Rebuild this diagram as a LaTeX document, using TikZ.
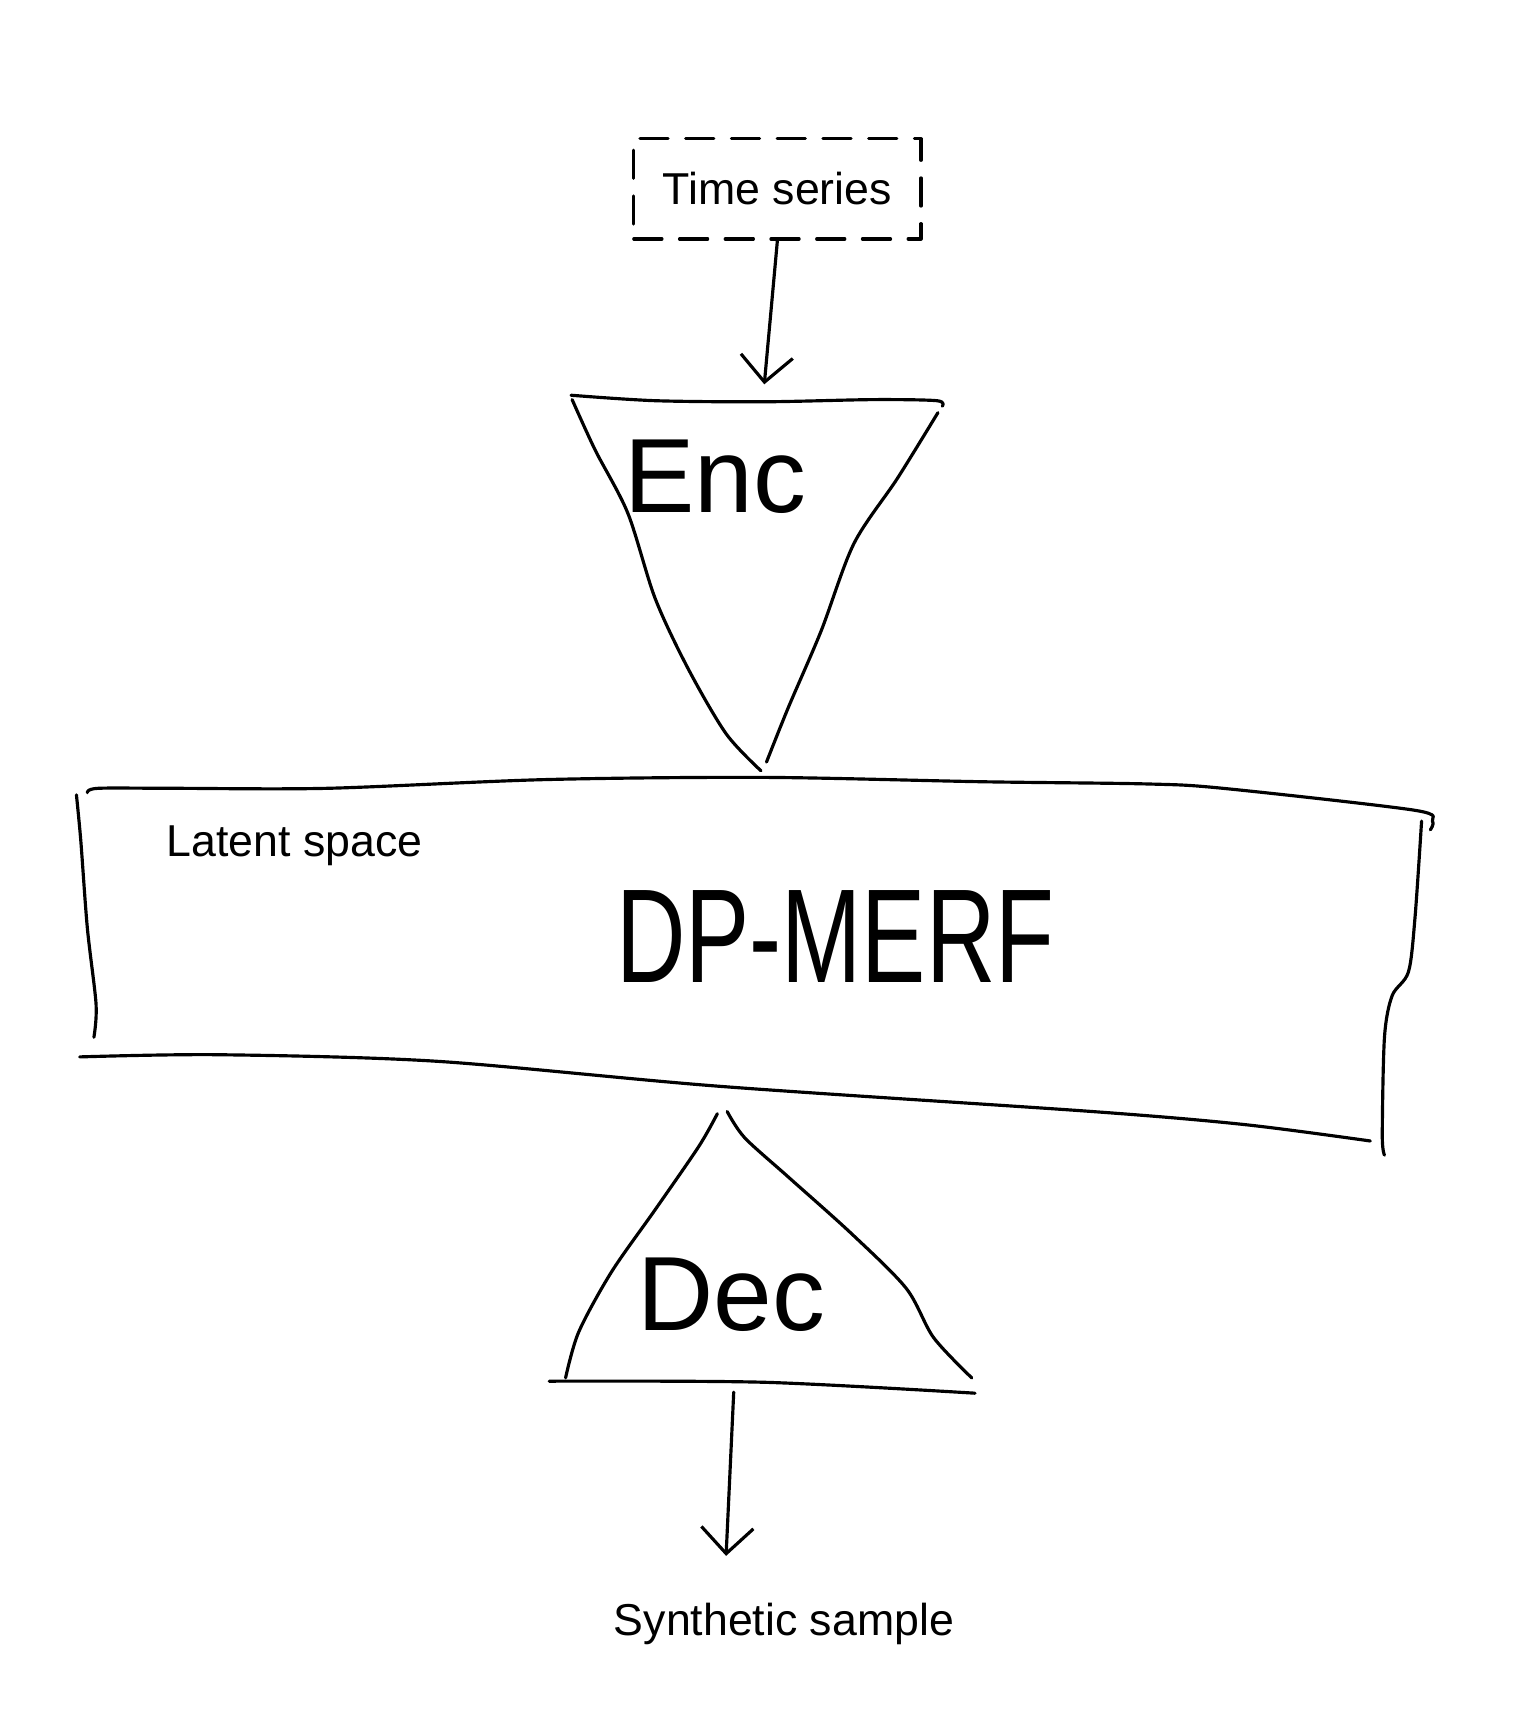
\documentclass[tikz,border=0pt]{standalone}
\usepackage{fontspec}
\setmainfont{Liberation Sans}
\usepackage{tikz}
\usetikzlibrary{arrows.meta}
\usetikzlibrary{positioning}

\begin{document}
\begin{tikzpicture}
[x=0.010917cm, y=-0.010917cm,
 sketch/.style={line width=0.9pt, line cap=round, line join=round},
 txt/.style={font=\fontsize{12.7}{15}\selectfont, inner sep=0pt},
 handtxt/.style={font=\fontsize{30}{34}\selectfont, inner sep=0pt},
 tsbox/.style={draw, sketch, dash pattern=on 8pt off 5pt, minimum width=2.87cm, minimum height=1.0cm, font=\fontsize{12.7}{15}\selectfont},
 arr/.style={sketch, -{Straight Barb[length=2.6mm, width=5.2mm]}},]
\useasboundingbox (0,0) rectangle (1407,1568);
\node[tsbox] (ts) at (712,173) {Time series};
\coordinate (enctop) at (700,352);
\draw[sketch] plot[smooth] coordinates {(523,362) (600,367) (700,368) (800,366) (858,367) (863,372)};
\draw[sketch] plot[smooth] coordinates {(524,366) (545,412) (575,470) (600,548) (630,612) (665,672) (697,706)};
\draw[sketch] plot[smooth] coordinates {(859,378) (822,438) (782,498) (752,578) (722,648) (702,698)};
\node[handtxt] (enc) at (655,437) {Enc};
\draw[arr] (ts.south) -- (enctop);
\draw[sketch] plot[smooth] coordinates {(80,726) (90,722) (160,722) (300,722) (500,714) (700,712) (900,716) (1050,718) (1120,722) (1295,742) (1312,752) (1310,760)};
\draw[sketch] plot[smooth] coordinates {(70,728) (74,770) (80,850) (88,920) (86,950)};
\draw[sketch] plot[smooth] coordinates {(73,968) (200,966) (400,972) (660,995) (1000,1018) (1140,1030) (1255,1045)};
\draw[sketch] plot[smooth] coordinates {(1302,752) (1296,840) (1290,890) (1275,912) (1268,950) (1266,1040) (1268,1058)};
\node[txt] (latent) at (270,775) {Latent space};
\node[font=\fontsize{38}{44}\selectfont, inner sep=0pt] (merf) at (765,858) {\scalebox{0.72}[1]{DP-MERF}};
\draw[sketch] plot[smooth] coordinates {(657,1020) (640,1050) (600,1108) (560,1165) (530,1220) (518,1262)};
\draw[sketch] plot[smooth] coordinates {(666,1018) (682,1042) (722,1078) (780,1130) (830,1180) (855,1225) (890,1262)};
\draw[sketch] plot[smooth] coordinates {(503,1265) (700,1266) (893,1276)};
\node[handtxt] (dec) at (670,1186) {Dec};
\coordinate (decbot) at (672,1275);
\coordinate (outtip) at (665,1425);
\draw[arr] (decbot) -- (outtip);
\node[txt] (out) at (718,1487) {Synthetic sample};
\end{tikzpicture}
\end{document}
